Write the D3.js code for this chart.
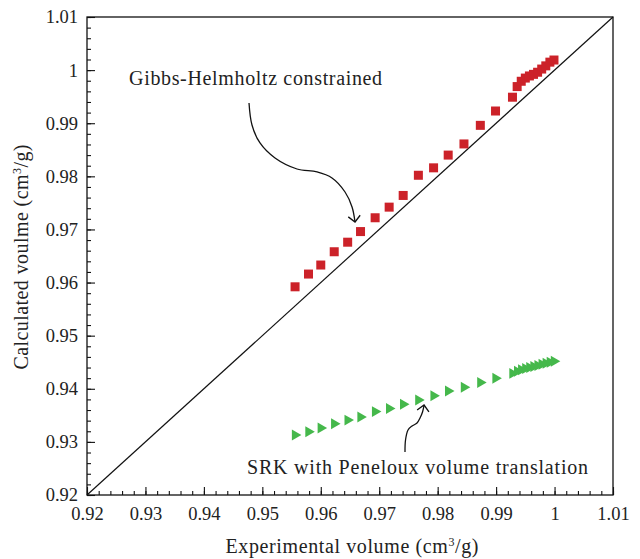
<!DOCTYPE html>
<html>
<head>
<meta charset="utf-8">
<script src="https://cdn.jsdelivr.net/npm/d3@7"></script>
<style>
  html, body { margin: 0; padding: 0; background: #fff; }
  svg { display: block; }
  text { font-family: "Liberation Serif", "Times New Roman", serif; fill: #222; }
</style>
</head>
<body>
<svg id="chart" width="640" height="559"></svg>
<script>
// ---- Data ----
const experimental = [0.9556, 0.9579, 0.9600, 0.9623, 0.9646, 0.9668, 0.9693, 0.9717, 0.9741,
  0.9767, 0.9793, 0.9818, 0.9845, 0.9873, 0.9899, 0.9928,
  0.9936, 0.9943, 0.9950, 0.9957, 0.9964, 0.9971, 0.9978, 0.9985, 0.9992, 0.9999];
const gibbsHelmholtz = [0.9592, 0.9616, 0.9633, 0.9658, 0.9676, 0.9696, 0.9722, 0.9742, 0.9764,
  0.9802, 0.9816, 0.9840, 0.9861, 0.9896, 0.9923, 0.9949,
  0.9969, 0.9979, 0.9985, 0.9989, 0.9992, 0.9996, 1.0002, 1.0008, 1.0015, 1.0019];
const srkPeneloux = [0.9313, 0.9319, 0.9326, 0.9334, 0.9341, 0.9347, 0.9357, 0.9363, 0.9371,
  0.9379, 0.9387, 0.9396, 0.9403, 0.9412, 0.9420, 0.9429,
  0.9433, 0.9436, 0.9438, 0.9440, 0.9442, 0.9444, 0.9446, 0.9448, 0.9450, 0.9452];
const xTicks = [0.92, 0.93, 0.94, 0.95, 0.96, 0.97, 0.98, 0.99, 1, 1.01];
const yTicks = [0.92, 0.93, 0.94, 0.95, 0.96, 0.97, 0.98, 0.99, 1, 1.01];
const xDomain = [0.92, 1.01];
const yDomain = [0.92, 1.01];
// annotation arrow paths (data units)
const arrowGibbsX = [0.94772, 0.94823, 0.9496, 0.95217, 0.95593, 0.95936, 0.96192, 0.96415, 0.96535, 0.96586];
const arrowGibbsY = [0.99381, 0.98967, 0.98628, 0.98345, 0.98138, 0.98082, 0.97969, 0.97705, 0.97423, 0.9714];
const arrowSrkX = [0.97441, 0.97450, 0.97493, 0.97561, 0.97647, 0.97698, 0.97741, 0.97767];
const arrowSrkY = [0.92809, 0.93035, 0.93224, 0.93299, 0.93355, 0.9345, 0.93563, 0.93694];

// ---- Layout ----
const margin = { left: 87, right: 27, top: 17, bottom: 64 };
const W = 640, H = 559;
const svg = d3.select("#chart");
const x = d3.scaleLinear().domain(xDomain).range([margin.left, W - margin.right]);
const y = d3.scaleLinear().domain(yDomain).range([H - margin.bottom, margin.top]);
const fmt = d => (d === 1 ? "1" : d3.format(".2f")(d));

const minor = d3.range(0, 46).map(i => 0.92 + i * 0.002);

// Axes (ticks inward)
const gx = svg.append("g").attr("transform", `translate(0,${y(0.92)})`);
gx.call(d3.axisBottom(x).tickValues(minor).tickSize(-4).tickFormat(""));
gx.call(g => g.select(".domain").remove());
const gx2 = svg.append("g").attr("transform", `translate(0,${y(0.92)})`);
gx2.call(d3.axisBottom(x).tickValues(xTicks).tickSize(-8).tickPadding(12).tickFormat(fmt));
gx2.select(".domain").remove();
gx2.selectAll("text").attr("font-size", 18.5).attr("font-family", "Liberation Serif").attr("fill", "#222");

const gy = svg.append("g").attr("transform", `translate(${x(0.92)},0)`);
gy.call(d3.axisLeft(y).tickValues(minor).tickSize(-4).tickFormat(""));
gy.select(".domain").remove();
const gy2 = svg.append("g").attr("transform", `translate(${x(0.92)},0)`);
gy2.call(d3.axisLeft(y).tickValues(yTicks).tickSize(-8).tickPadding(9).tickFormat(fmt));
gy2.select(".domain").remove();
gy2.selectAll("text").attr("font-size", 18.5).attr("font-family", "Liberation Serif").attr("fill", "#222");

svg.selectAll(".tick line").attr("stroke", "#111").attr("stroke-width", 1.1);

// Frame
svg.append("rect")
  .attr("x", x(0.92)).attr("y", y(1.01))
  .attr("width", x(1.01) - x(0.92)).attr("height", y(0.92) - y(1.01))
  .attr("fill", "none").attr("stroke", "#111").attr("stroke-width", 1.3);

// Diagonal y = x
svg.append("line")
  .attr("x1", x(0.92)).attr("y1", y(0.92))
  .attr("x2", x(1.01)).attr("y2", y(1.01))
  .attr("stroke", "#111").attr("stroke-width", 1.2);

// Red squares
const sq = 9;
svg.append("g").selectAll("rect")
  .data(experimental.map((e, i) => [e, gibbsHelmholtz[i]]))
  .join("rect")
  .attr("x", d => x(d[0]) - sq / 2)
  .attr("y", d => y(d[1]) - sq / 2)
  .attr("width", sq).attr("height", sq)
  .attr("fill", "#cc2229");

// Green triangles (pointing right)
const tri = d3.symbol().type(d3.symbolTriangle).size(52);
svg.append("g").selectAll("path")
  .data(experimental.map((e, i) => [e, srkPeneloux[i]]))
  .join("path")
  .attr("d", tri)
  .attr("transform", d => `translate(${x(d[0])},${y(d[1])}) rotate(90)`)
  .attr("fill", "#45b84b");

// Arrow marker
const defs = svg.append("defs");
defs.append("marker")
  .attr("id", "head").attr("viewBox", "-10 -10 20 20")
  .attr("refX", 0).attr("refY", 0)
  .attr("markerWidth", 20).attr("markerHeight", 20)
  .attr("markerUnits", "userSpaceOnUse")
  .attr("orient", "auto")
  .append("path").attr("d", "M-6,-6L0,0L-6,6")
  .attr("fill", "none").attr("stroke", "#111").attr("stroke-width", 1.3);

const line = d3.line().x(d => x(d[0])).y(d => y(d[1])).curve(d3.curveCatmullRom);
svg.append("path")
  .attr("d", line(arrowGibbsX.map((v, i) => [v, arrowGibbsY[i]])))
  .attr("fill", "none").attr("stroke", "#111").attr("stroke-width", 1.3)
  .attr("marker-end", "url(#head)");
svg.append("path")
  .attr("d", line(arrowSrkX.map((v, i) => [v, arrowSrkY[i]])))
  .attr("fill", "none").attr("stroke", "#111").attr("stroke-width", 1.3)
  .attr("marker-end", "url(#head)");

// Annotation texts
svg.append("text").attr("x", x(0.9272)).attr("y", y(0.9972))
  .attr("font-size", 20).attr("textLength", 253).attr("lengthAdjust", "spacing")
  .text("Gibbs-Helmholtz constrained");
svg.append("text").attr("x", x(0.94738)).attr("y", y(0.92395))
  .attr("font-size", 20).attr("textLength", 341).attr("lengthAdjust", "spacing")
  .text("SRK with Peneloux volume translation");

// Axis titles
const xt = svg.append("text").attr("x", (x(0.92) + x(1.01)) / 2 + 2).attr("y", 553)
  .attr("text-anchor", "middle").attr("font-size", 20)
  .attr("textLength", 253).attr("lengthAdjust", "spacing");
xt.append("tspan").text("Experimental volume (cm");
xt.append("tspan").attr("dy", -7).attr("font-size", 12).text("3");
xt.append("tspan").attr("dy", 7).text("/g)");

const yt = svg.append("text")
  .attr("transform", `translate(28,${(y(0.92) + y(1.01)) / 2 + 1}) rotate(-90)`)
  .attr("text-anchor", "middle").attr("font-size", 20)
  .attr("textLength", 225).attr("lengthAdjust", "spacing");
yt.append("tspan").text("Calculated voulme (cm");
yt.append("tspan").attr("dy", -7).attr("font-size", 12).text("3");
yt.append("tspan").attr("dy", 7).text("/g)");
</script>
</body>
</html>
